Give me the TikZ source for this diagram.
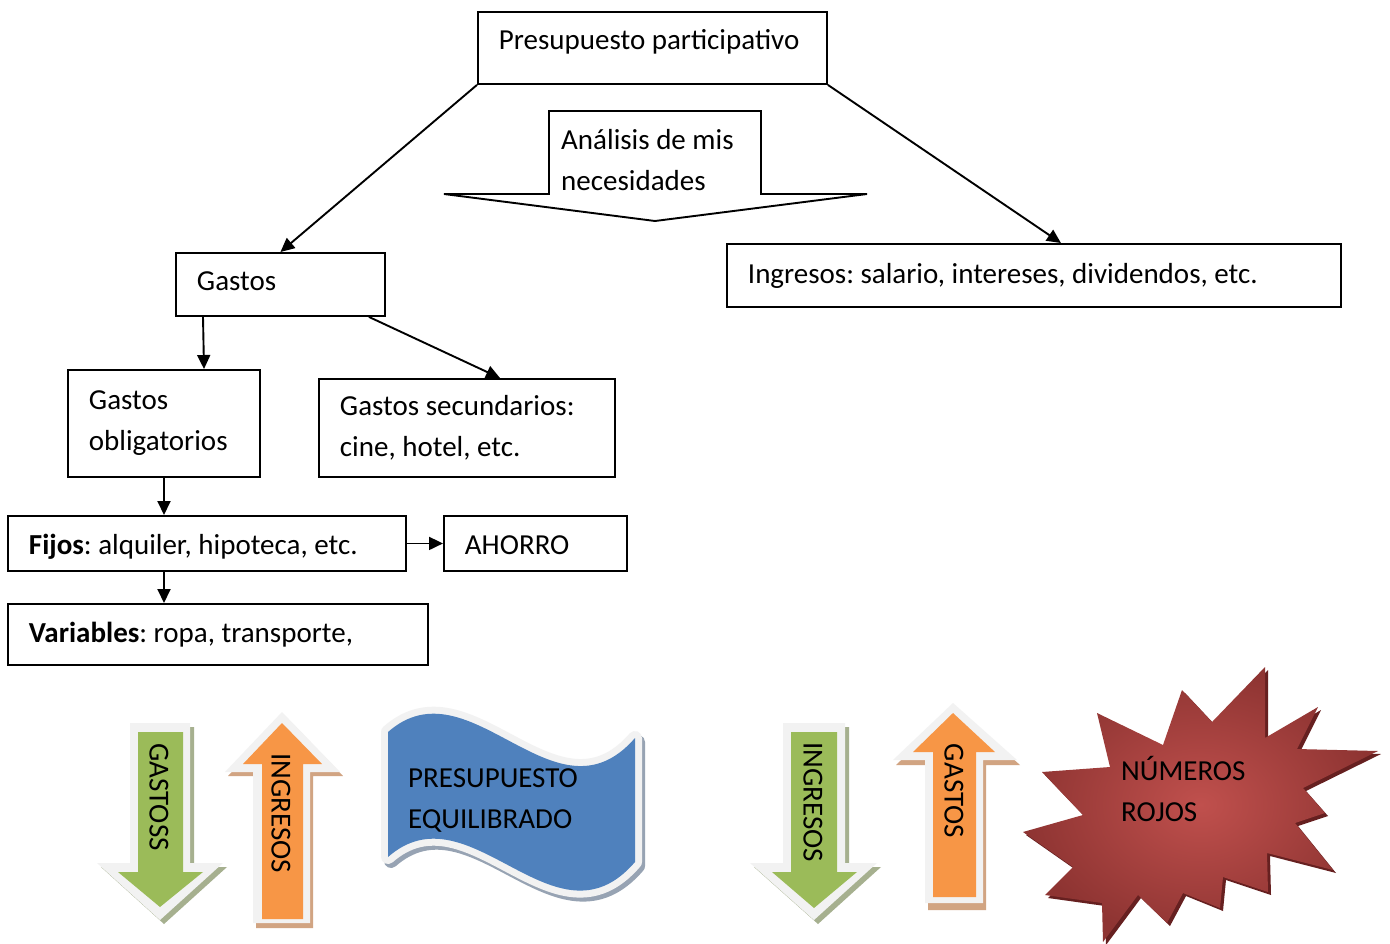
\documentclass[tikz,border=0pt]{standalone}
\usepackage{fontspec}
\setmainfont{Carlito}
\usetikzlibrary{arrows.meta,calc}
\definecolor{arrgreen}{HTML}{9BBB59}
\definecolor{arrgreensh}{HTML}{A6B08F}
\definecolor{arrorange}{HTML}{F79646}
\definecolor{arrorangesh}{HTML}{D1A482}
\definecolor{wavblue}{HTML}{4F81BD}
\definecolor{wavsh}{HTML}{97A3B3}
\definecolor{rimwhite}{HTML}{F2F2F2}
\definecolor{starin}{HTML}{C0504D}
\definecolor{starout}{HTML}{8E3432}
\definecolor{starsh}{HTML}{662020}
\frenchspacing
\begin{document}
\begin{tikzpicture}[x=1pt,y=-1pt,
  txt/.style={font=\fontsize{29}{41}\selectfont},
  box/.style={txt, draw, line width=1.9pt, rectangle, anchor=north west, inner xsep=21pt, inner ysep=0pt, fill=white},
  conn/.style={line width=1.9pt, -{Triangle[length=14pt,width=13pt]}},
  rim/.style={fill=rimwhite},
  vtext/.style={txt, rotate=-90, inner sep=0pt}]
\useasboundingbox[fill=white] (0,0) rectangle (1390,943);

% analysis block arrow
\draw[line width=1.9pt, fill=white] (549,111) -- (761,111) -- (761,194) -- (867,194) -- (655,221) -- (444,194) -- (549,194) -- cycle;
\node[txt, anchor=west, align=left, inner sep=0pt] (ana) at (561,160) {Análisis de mis\\necesidades};

% boxes
\node[box, minimum width=349pt, minimum height=72pt, text height=20pt, text depth=16pt] (pp) at (477,11) {\makebox[307pt][l]{Presupuesto participativo}};
\node[box, minimum width=209pt, minimum height=63pt] (gas) at (175,252) {\raisebox{6pt}{\makebox[167pt][l]{Gastos}}};
\node[box, minimum width=614pt, minimum height=63pt] (ing) at (726,243) {\makebox[572pt][l]{Ingresos: salario, intereses, dividendos, etc.}};
\node[box, minimum width=192pt, minimum height=107pt] (obl) at (67,369) {\parbox{150pt}{Gastos\\obligatorios}};
\node[box, minimum width=296pt, minimum height=98pt] (sec) at (318,378) {\parbox{254pt}{Gastos secundarios:\\cine, hotel, etc.}};
\node[box, minimum width=398pt, minimum height=55pt, text height=28pt, text depth=5pt] (fij) at (7,515) {\makebox[356pt][l]{\textbf{Fijos}: alquiler, hipoteca, etc.}};
\node[box, minimum width=183pt, minimum height=55pt, text height=28pt, text depth=5pt] (aho) at (443,515) {\makebox[141pt][l]{AHORRO}};
\node[box, minimum width=420pt, minimum height=61pt] (var) at (7,603) {\makebox[378pt][l]{\textbf{Variables}: ropa, transporte,}};

% connectors
\draw[conn] (pp.south west) -- (gas.north);
\draw[conn] (pp.south east) -- ([xshift=27pt]ing.north);
\draw[conn] ([xshift=28pt]gas.south west) -- ([xshift=137pt]obl.north west);
\draw[conn] ([xshift=-17pt]gas.south east) -- ([xshift=182pt]sec.north west);
\draw[conn] ([xshift=97pt]obl.south west) -- ([xshift=157pt]fij.north west);
\draw[conn] (fij.east) -- (aho.west);
\draw[conn] ([xshift=157pt]fij.south west) -- ([xshift=157pt]var.north west);

% green arrow 1 (GASTOSS)
\fill[arrgreensh] (134,727) -- (194,727) -- (194,867) -- (227,867) -- (164,924) -- (101,867) -- (134,867) -- cycle;
\fill[rim] (130,723) -- (190,723) -- (190,863) -- (223,863) -- (160,920) -- (97,863) -- (130,863) -- cycle;
\fill[arrgreen] (138,732) -- (183,732) -- (183,872) -- (203,872) -- (160,907) -- (118,872) -- (138,872) -- cycle;
\node[vtext] (g1) at (159,797) {GASTOSS};

% orange arrow 1 (INGRESOS)
\fill[arrorangesh] (285,716) -- (343,776) -- (313,776) -- (313,928) -- (256,928) -- (256,776) -- (228,776) -- cycle;
\fill[rim] (282,712) -- (340,772) -- (310,772) -- (310,923) -- (253,923) -- (253,772) -- (225,772) -- cycle;
\fill[arrorange] (282,723) -- (322,764) -- (303,764) -- (303,919) -- (262,919) -- (262,764) -- (243,764) -- cycle;
\node[vtext] (i1) at (281,813) {INGRESOS};

% wave
\def\wavepath{(388,732) .. controls (470,660) and (555,830) .. (635,738) -- (635,862) .. controls (555,955) and (470,785) .. (388,857) -- cycle}
\filldraw[wavsh, line width=14pt, line join=round, shift={(3pt,-4pt)}] \wavepath;
\filldraw[draw=rimwhite, fill=wavblue, line width=14pt, line join=round] \wavepath;
\fill[wavblue] \wavepath;
\node[txt, anchor=west, align=left, inner sep=0pt] (pe) at (408,800) {PRESUPUESTO\\EQUILIBRADO};

% green arrow 2 (INGRESOS)
\fill[arrgreensh] (787,727) -- (849,727) -- (849,867) -- (881,867) -- (818,924) -- (754,867) -- (787,867) -- cycle;
\fill[rim] (783,723) -- (845,723) -- (845,863) -- (877,863) -- (814,920) -- (750,863) -- (783,863) -- cycle;
\fill[arrgreen] (791,732) -- (837,732) -- (837,872) -- (857,872) -- (814,908) -- (772,872) -- (791,872) -- cycle;
\node[vtext] (i2) at (813,802) {INGRESOS};

% orange arrow 2 (GASTOS)
\fill[arrorangesh] (956,708) -- (1020,765) -- (986,765) -- (986,910) -- (928,910) -- (928,765) -- (896,765) -- cycle;
\fill[rim] (953,703) -- (1017,760) -- (983,760) -- (983,903) -- (925,903) -- (925,760) -- (893,760) -- cycle;
\fill[arrorange] (953,713) -- (995,752) -- (976,752) -- (976,897) -- (933,897) -- (933,752) -- (913,752) -- cycle;
\node[vtext] (g2) at (954,791) {GASTOS};

% explosion star
\def\starpath{(1023,832) -- (1083,815) -- (1042,772) -- (1110,767) -- (1097,713) -- (1163,745) -- (1182,690) -- (1212,722) -- (1265,667) -- (1265,738) -- (1318,707) -- (1297,749) -- (1378,751) -- (1303,788) -- (1325,813) -- (1295,823) -- (1333,870) -- (1267,853) -- (1268,892) -- (1223,877) -- (1220,908) -- (1183,893) -- (1167,923) -- (1138,895) -- (1103,942) -- (1102,903) -- (1045,895) -- (1073,867) -- cycle}
\fill[starsh, shift={(3pt,-3pt)}] \starpath;
\shade[inner color=starin, outer color=starout] \starpath;
\node[txt, anchor=west, align=left, inner sep=0pt] (nr) at (1121,789) {NÚMEROS\\ROJOS};
\end{tikzpicture}
\end{document}
